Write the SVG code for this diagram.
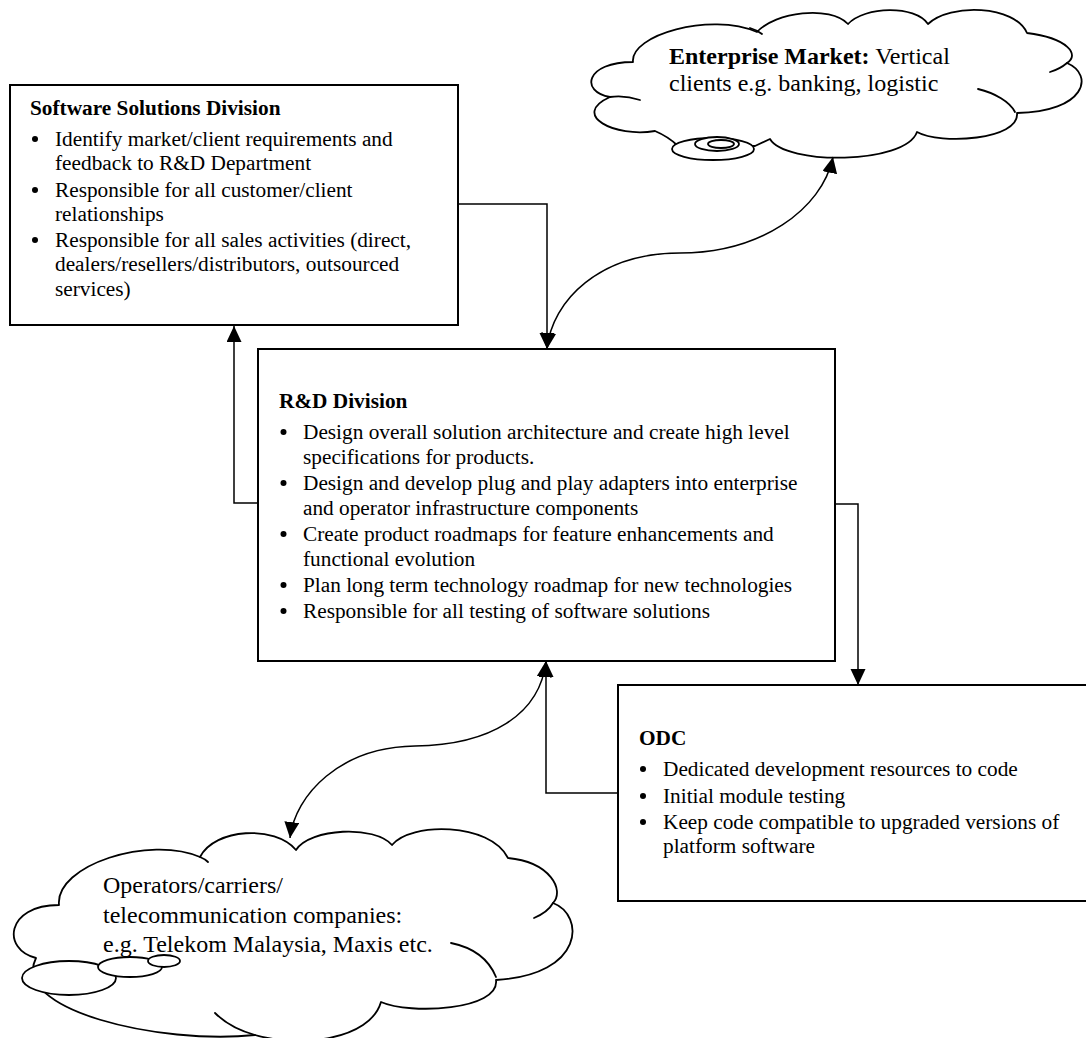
<svg xmlns="http://www.w3.org/2000/svg" width="1086" height="1038" viewBox="0 0 1086 1038">
<style>
text{font-family:"Liberation Serif","Times New Roman",serif;fill:#000}
.t{font-size:21.3px}
.b{font-weight:bold}
.c{font-size:24px}
.box{fill:#fff;stroke:#000;stroke-width:2}
.cl{fill:#fff;stroke:#000;stroke-width:1.8;stroke-linejoin:round}
.tail{fill:none;stroke:#000;stroke-width:1.8;stroke-linecap:round}
.con{fill:none;stroke:#000;stroke-width:1.5}
.dot{fill:#000}
</style>
<defs>
<marker id="ah" markerUnits="userSpaceOnUse" markerWidth="17" markerHeight="16" refX="16" refY="7.5" orient="auto-start-reverse" viewBox="0 0 17 16">
<path d="M0,0 L16,7.5 L0,15 Z" fill="#000"/>
</marker>
</defs>
<rect width="1086" height="1038" fill="#fff"/>

<g id="enterprise-market">
<path class="cl" d="M633,62 C630,35 710,12 757,32 C775,12 830,5 848,24 C865,6 915,5 928,24 C950,3 1015,5 1027,33 C1068,38 1080,55 1067,63 C1095,75 1085,112 1017,113 C1020,140 940,145 917,132 C905,165 785,165 770,139 L755,146 L678,146 C670,138 662,134 655,131 C615,138 570,115 610,97 C580,92 585,62 633,62 Z"/>
<path class="tail" d="M1067,63 Q1060,69 1050,72"/>
<path class="tail" d="M978,89 C995,93 1010,102 1015,112"/>
<path class="tail" d="M610,97 Q625,95 640,100"/>
<path class="tail" d="M750,28 Q757,30 762,34"/>
<ellipse class="cl" cx="713" cy="149" rx="41" ry="11"/>
<ellipse class="cl" cx="717" cy="144" rx="22" ry="7"/>
<ellipse class="cl" cx="721" cy="144" rx="13" ry="4"/>
<text class="c" x="669" y="64"><tspan class="b">Enterprise Market:</tspan> Vertical</text>
<text class="c" x="669" y="91">clients e.g. banking, logistic</text>
</g>

<g id="operators">
<path class="cl" d="M59,905 C55,865 150,835 200,857 C215,828 275,825 296,850 C310,828 375,825 392,845 C410,822 490,822 508,858 C550,862 565,890 553,903 C585,915 585,975 496,980 C500,1010 410,1015 381,1002 C370,1040 300,1048 255,1035 C160,1045 10,1010 36,958 C2,950 5,905 59,905 Z"/>
<path class="tail" d="M200,857 Q205,859 208,862"/>
<path class="tail" d="M553,903 Q548,912 534,918"/>
<path class="tail" d="M451,943 Q485,950 496,977"/>
<path class="tail" d="M255,1035 Q230,1028 215,1013"/>
<ellipse class="cl" cx="69" cy="978" rx="47" ry="17"/>
<ellipse class="cl" cx="130" cy="967" rx="32" ry="10"/>
<ellipse class="cl" cx="164" cy="961" rx="16" ry="6"/>
<text class="c" x="103" y="893">Operators/carriers/</text>
<text class="c" x="103" y="923">telecommunication companies:</text>
<text class="c" x="103" y="952">e.g. Telekom Malaysia, Maxis etc.</text>
</g>

<g id="software-solutions">
<rect class="box" x="10" y="85" width="448" height="240"/>
<text class="t b" x="30" y="115">Software Solutions Division</text>
<circle class="dot" cx="35" cy="139" r="3"/>
<circle class="dot" cx="35" cy="190" r="3"/>
<circle class="dot" cx="35" cy="240" r="3"/>
<text class="t" x="55" y="146">Identify market/client requirements and</text>
<text class="t" x="55" y="170">feedback to R&amp;D Department</text>
<text class="t" x="55" y="197">Responsible for all customer/client</text>
<text class="t" x="55" y="221">relationships</text>
<text class="t" x="55" y="247">Responsible for all sales activities (direct,</text>
<text class="t" x="55" y="271">dealers/resellers/distributors, outsourced</text>
<text class="t" x="55" y="296">services)</text>
</g>

<g id="rd-division">
<rect class="box" x="258" y="349" width="577" height="312"/>
<text class="t b" x="279" y="408">R&amp;D Division</text>
<circle class="dot" cx="283.5" cy="432" r="3"/>
<circle class="dot" cx="283.5" cy="483" r="3"/>
<circle class="dot" cx="283.5" cy="534" r="3"/>
<circle class="dot" cx="283.5" cy="585" r="3"/>
<circle class="dot" cx="283.5" cy="611" r="3"/>
<text class="t" x="303" y="439">Design overall solution architecture and create high level</text>
<text class="t" x="303" y="463.5">specifications for products.</text>
<text class="t" x="303" y="490">Design and develop plug and play adapters into enterprise</text>
<text class="t" x="303" y="514.5">and operator infrastructure components</text>
<text class="t" x="303" y="541">Create product roadmaps for feature enhancements and</text>
<text class="t" x="303" y="565.5">functional evolution</text>
<text class="t" x="303" y="592">Plan long term technology roadmap for new technologies</text>
<text class="t" x="303" y="618">Responsible for all testing of software solutions</text>
</g>

<g id="odc">
<rect class="box" x="618" y="685" width="480" height="216"/>
<text class="t b" x="639" y="745">ODC</text>
<circle class="dot" cx="643" cy="769" r="3"/>
<circle class="dot" cx="643" cy="796" r="3"/>
<circle class="dot" cx="643" cy="822" r="3"/>
<text class="t" x="663" y="776">Dedicated development resources to code</text>
<text class="t" x="663" y="803">Initial module testing</text>
<text class="t" x="663" y="829">Keep code compatible to upgraded versions of</text>
<text class="t" x="663" y="853">platform software</text>
</g>

<g id="connectors">
<path class="con" d="M458,204 L547,204 L547,349" marker-end="url(#ah)"/>
<path class="con" d="M258,503 L234,503 L234,326" marker-end="url(#ah)"/>
<path class="con" d="M835,504 L858,504 L858,685" marker-end="url(#ah)"/>
<path class="con" d="M618,793 L546,793 L546,661" marker-end="url(#ah)"/>
<path class="con" d="M547,349 C552,300 600,253 680,253 C760,253 822,210 833,157" marker-start="url(#ah)" marker-end="url(#ah)"/>
<path class="con" d="M546,661 C540,715 490,745 415,746 C340,747 295,795 290,838" marker-start="url(#ah)" marker-end="url(#ah)"/>
</g>
</svg>
